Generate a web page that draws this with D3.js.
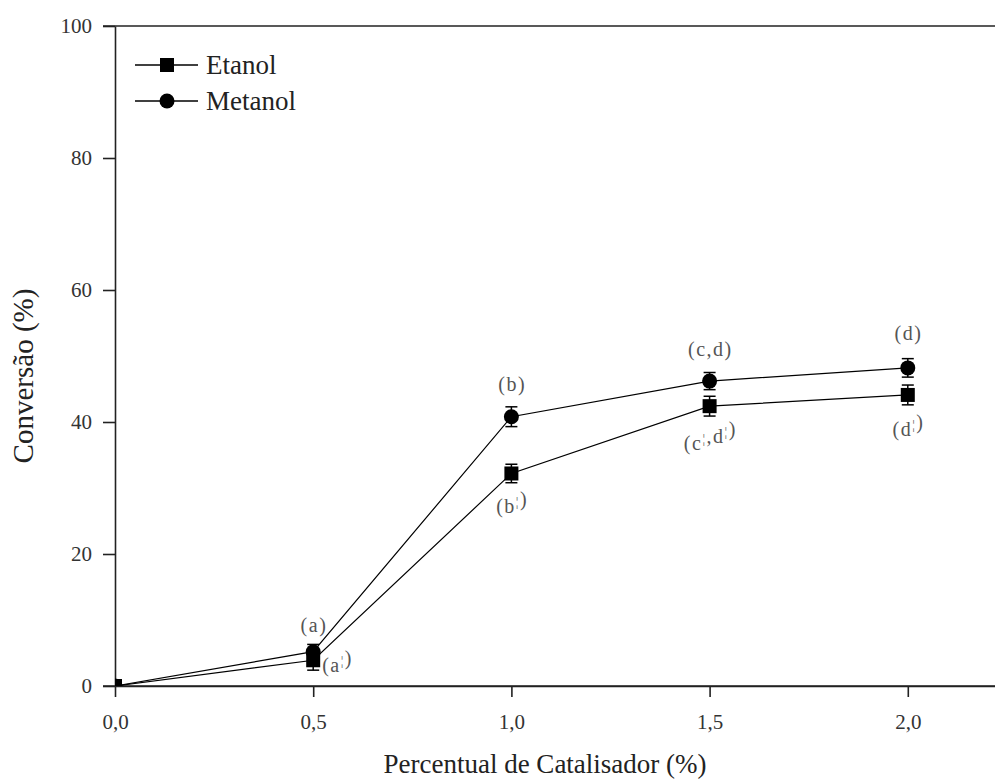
<!DOCTYPE html>
<html><head><meta charset="utf-8">
<script src="https://cdn.jsdelivr.net/npm/d3@7"></script>
<style>body{margin:0;background:#fff}svg{display:block}</style>
</head><body>
<svg id="c" width="995" height="781"></svg>
<script>
const xValues = [0, 0.5, 1.0, 1.5, 2.0];
const etanol = [0, 3.9, 32.2, 42.4, 44.1];
const etanolErr = [0, 1.5, 1.4, 1.5, 1.5];
const metanol = [0, 5.2, 40.8, 46.2, 48.2];
const metanolErr = [0, 1.1, 1.5, 1.3, 1.4];
const xTicks = [0, 0.5, 1.0, 1.5, 2.0];
const yTicks = [0, 20, 40, 60, 80, 100];
const labelsMet = [[], ["a"], ["b"], ["c", "d"], ["d"]];
const labelsEt = [[], ["a"], ["b"], ["c", "d"], ["d"]];

const FONT = '"Liberation Serif"';
const svg = d3.select("#c");
const x = d3.scaleLinear().domain([0, 2.22]).range([115, 995]);
const y = d3.scaleLinear().domain([0, 100]).range([686, 26]);
const fmt = d => d3.format(".1f")(d).replace(".", ",");

// axes
const xa = svg.append("g").attr("transform", "translate(0,686)")
  .call(d3.axisBottom(x).tickValues(xTicks).tickFormat(fmt).tickSize(11).tickPadding(17).tickSizeOuter(0));
const ya = svg.append("g").attr("transform", "translate(115,0)")
  .call(d3.axisLeft(y).tickValues(yTicks).tickSize(12).tickPadding(11).tickSizeOuter(0));
[xa, ya].forEach(a => {
  a.attr("font-family", null).attr("font-size", null);
  a.select(".domain").attr("stroke", "#222").attr("stroke-width", 1.6);
  a.selectAll(".tick line").attr("stroke", "#222").attr("stroke-width", 1.6);
  a.selectAll("text").style("font-family", FONT).style("font-size", "21px").attr("fill", "#333");
});
ya.selectAll("text").attr("dy", "0.3em");
svg.append("line").attr("x1", 103).attr("x2", 995).attr("y1", y(0)).attr("y2", y(0)).attr("stroke", "#222").attr("stroke-width", 1.6);
svg.append("line").attr("x1", 103).attr("x2", 995).attr("y1", y(100)).attr("y2", y(100)).attr("stroke", "#222").attr("stroke-width", 1.6);

// clip
svg.append("clipPath").attr("id", "clip").append("rect")
  .attr("x", 115).attr("y", 26).attr("width", 880).attr("height", 660);
const plot = svg.append("g").attr("clip-path", "url(#clip)");

const line = d3.line().x((d, i) => x(xValues[i])).y(d => y(d));
function series(vals, errs, shape) {
  plot.append("path").datum(vals).attr("d", line).attr("fill", "none").attr("stroke", "#000").attr("stroke-width", 1.2);
  vals.forEach((v, i) => {
    const cx = x(xValues[i]);
    if (errs[i] > 0) {
      const g = plot.append("g").attr("stroke", "#000").attr("stroke-width", 1.5);
      g.append("line").attr("x1", cx).attr("x2", cx).attr("y1", y(v - errs[i])).attr("y2", y(v + errs[i]));
      [v - errs[i], v + errs[i]].forEach(e => g.append("line").attr("x1", cx - 6).attr("x2", cx + 6).attr("y1", y(e)).attr("y2", y(e)));
    }
    if (shape === "square") plot.append("rect").attr("x", cx - 7).attr("y", y(v) - 7).attr("width", 14).attr("height", 14).attr("fill", "#000");
    else plot.append("circle").attr("cx", cx).attr("cy", y(v)).attr("r", 7.5).attr("fill", "#000");
  });
}
series(etanol, etanolErr, "square");
series(metanol, metanolErr, "circle");

// annotations
const ann = svg.append("g").attr("fill", "#555");
function label(letters, prime, px, py, anchor) {
  const tx = ann.append("text").style("font-family", FONT).style("font-size", "20px")
    .attr("x", px).attr("y", py).attr("text-anchor", anchor);
  tx.append("tspan").text("(");
  letters.forEach((l, k) => {
    if (k > 0) tx.append("tspan").attr("dx", 1.5).text(",");
    tx.append("tspan").attr("dx", 1.5).text(l);
    if (prime) {
      tx.append("tspan").attr("dx", 1.5).attr("dy", -7).style("font-size", "13px").text("¦");
      tx.append("tspan").attr("dy", 7).text("");
    }
  });
  tx.append("tspan").attr("dx", 1.5).text(")");
}
const metOffsets = [0, -20, -26, -25, -28];
labelsMet.forEach((t, i) => {
  if (!t.length) return;
  label(t, false, x(xValues[i]), y(metanol[i]) + metOffsets[i], "middle");
});
label(labelsEt[1], true, x(0.5) + 9, y(etanol[1]) + 12, "start");
label(labelsEt[2], true, x(1.0), y(etanol[2]) + 40, "middle");
label(labelsEt[3], true, x(1.5), y(etanol[3]) + 44, "middle");
label(labelsEt[4], true, x(2.0), y(etanol[4]) + 41, "middle");

// legend
const leg = svg.append("g");
[["Etanol", "square", 65], ["Metanol", "circle", 101]].forEach(([name, shape, ly]) => {
  leg.append("line").attr("x1", 135).attr("x2", 198).attr("y1", ly).attr("y2", ly).attr("stroke", "#000").attr("stroke-width", 1.5);
  if (shape === "square") leg.append("rect").attr("x", 160).attr("y", ly - 7).attr("width", 14).attr("height", 14).attr("fill", "#000");
  else leg.append("circle").attr("cx", 167).attr("cy", ly).attr("r", 7.5).attr("fill", "#000");
  leg.append("text").style("font-family", FONT).style("font-size", "27px").attr("x", 206).attr("y", ly + 9).attr("fill", "#222").text(name);
});

// axis titles
svg.append("text").style("font-family", FONT).style("font-size", "27px").attr("x", 545).attr("y", 773)
  .attr("text-anchor", "middle").attr("fill", "#222").text("Percentual de Catalisador (%)");
svg.append("text").style("font-family", FONT).style("font-size", "29px").attr("transform", "translate(33,376) rotate(-90)")
  .attr("text-anchor", "middle").attr("fill", "#222").text("Conversão (%)");
</script>
</body></html>
